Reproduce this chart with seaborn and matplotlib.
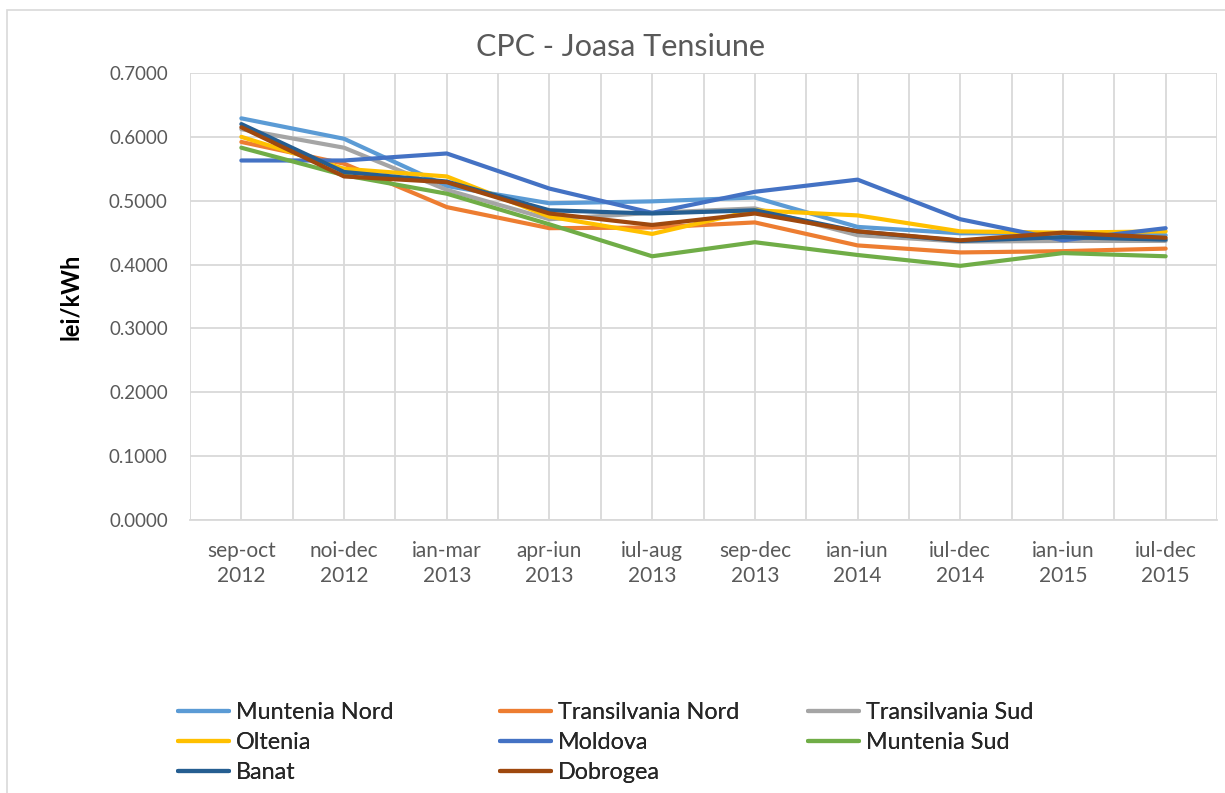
import numpy as np
import pandas as pd
import seaborn as sns
import matplotlib.pyplot as plt
from matplotlib.lines import Line2D
from matplotlib.patches import Rectangle

# Perioade (axa X)
perioade = ['sep-oct\n2012', 'noi-dec\n2012', 'ian-mar\n2013', 'apr-iun\n2013', 'iul-aug\n2013',
            'sep-dec\n2013', 'ian-iun\n2014', 'iul-dec\n2014', 'ian-iun\n2015', 'iul-dec\n2015']

# Valori CPC (lei/kWh)
muntenia_nord = [0.629, 0.597, 0.523, 0.496, 0.499, 0.505, 0.459, 0.449, 0.449, 0.446]
transilvania_nord = [0.592, 0.558, 0.490, 0.457, 0.458, 0.466, 0.430, 0.419, 0.421, 0.425]
transilvania_sud = [0.612, 0.583, 0.517, 0.471, 0.481, 0.488, 0.446, 0.436, 0.437, 0.437]
oltenia = [0.600, 0.550, 0.538, 0.475, 0.448, 0.485, 0.477, 0.452, 0.450, 0.452]
moldova = [0.563, 0.563, 0.574, 0.519, 0.481, 0.514, 0.533, 0.471, 0.438, 0.457]
muntenia_sud = [0.583, 0.540, 0.511, 0.463, 0.413, 0.435, 0.415, 0.398, 0.418, 0.413]
banat = [0.620, 0.545, 0.530, 0.485, 0.480, 0.485, 0.452, 0.437, 0.443, 0.439]
dobrogea = [0.615, 0.538, 0.529, 0.480, 0.462, 0.480, 0.452, 0.438, 0.450, 0.442]

regiuni = ['Muntenia Nord', 'Transilvania Nord', 'Transilvania Sud', 'Oltenia',
           'Moldova', 'Muntenia Sud', 'Banat', 'Dobrogea']
valori = [muntenia_nord, transilvania_nord, transilvania_sud, oltenia,
          moldova, muntenia_sud, banat, dobrogea]
culori = ['#5B9BD5', '#ED7D31', '#A5A5A5', '#FFC000', '#4472C4', '#70AD47', '#255E91', '#9E480E']

rows = []
for r, v in zip(regiuni, valori):
    for i, val in enumerate(v):
        rows.append({'Regiune': r, 'idx': i, 'val': val})
df = pd.DataFrame(rows)

sns.set_style('white')
plt.rcParams['font.family'] = ['Lato', 'DejaVu Sans']

fig = plt.figure(figsize=(12.25, 7.93), dpi=100)
ax = fig.add_axes([190/1225, 1-520/793, 1027/1225, 447/793])

sns.lineplot(data=df, x='idx', y='val', hue='Regiune', hue_order=regiuni,
             palette=culori, linewidth=3.0, ax=ax, legend=False, sort=False)

ax.set_xlim(-0.5, 9.5)
ax.set_ylim(0, 0.7)
ax.set_xticks(range(10))
ax.set_xticklabels(perioade, fontsize=15, color='#595959', linespacing=1.3)
ax.set_xticks(np.arange(-0.5, 10, 1), minor=True)
yt = np.arange(0, 0.71, 0.1)
ax.set_yticks(yt)
ax.set_yticklabels([f'{t:.4f}' for t in yt], fontsize=13.5, color='#595959')
ax.tick_params(axis='both', which='both', length=0)
ax.tick_params(axis='y', pad=16)
ax.tick_params(axis='x', pad=15)
ax.grid(True, which='both', axis='x', color='#D9D9D9', lw=1.3)
ax.grid(True, which='major', axis='y', color='#D9D9D9', lw=1.3)
ax.set_axisbelow(True)
for s in ['top', 'right', 'left']:
    ax.spines[s].set_visible(False)
ax.spines['bottom'].set_color('#D9D9D9')
ax.spines['bottom'].set_linewidth(1.3)

ax.set_xlabel('')
ax.set_ylabel('lei/kWh', fontsize=17, fontweight='bold', color='black')
ax.yaxis.set_label_coords((82-190)/1027, 0.5)
fig.text(621/1225, 1-47/793, 'CPC - Joasa Tensiune', fontsize=22, color='#595959',
         ha='center', va='center')

# chenar exterior
fig.patches.append(Rectangle((7/1225, -0.01), 1.1, 1-10/793+0.01, transform=fig.transFigure,
                             fill=False, edgecolor='#D9D9D9', lw=1.2))

# legenda pe trei coloane
handles = [Line2D([0], [0], color=c, lw=3.0) for c in culori]
coloane = [[0, 3, 6], [1, 4, 7], [2, 5]]
xpos = [178/1225, 500/1225, 808/1225]
for col, xp in zip(coloane, xpos):
    leg = fig.legend([handles[i] for i in col], [regiuni[i] for i in col],
                     loc='upper left', bbox_to_anchor=(xp, 1-702/793), frameon=False,
                     fontsize=16.8, handlelength=2.2, handletextpad=0.3, labelspacing=0.38,
                     borderaxespad=0, borderpad=0)
    fig.add_artist(leg)

fig.savefig('out.png', dpi=100)
